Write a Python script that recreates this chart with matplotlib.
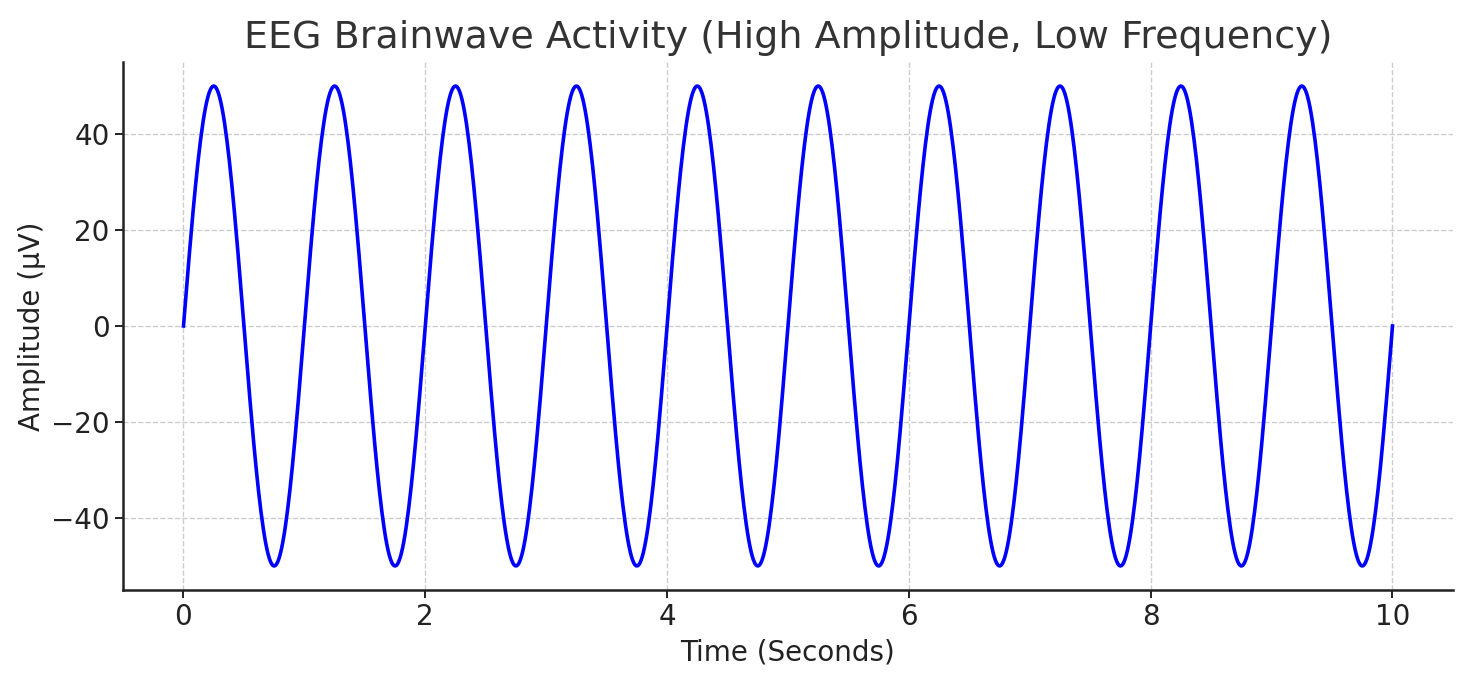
import matplotlib.pyplot as plt
import numpy as np

# 信号参数
duration_s = 10        # 时间范围 0-10 秒
amplitude_uv = 50      # 峰值 ±50 µV
frequency_hz = 1       # 每秒一个周期
n_samples = 1000

x_ticks = [0, 2, 4, 6, 8, 10]
y_ticks = [-40, -20, 0, 20, 40]

time = np.linspace(0, duration_s, n_samples)
eeg = amplitude_uv * np.sin(2 * np.pi * frequency_hz * time)

fig = plt.figure(figsize=(14.7, 6.8), dpi=100)
ax = fig.add_axes([0.0837, 0.1324, 0.9047, 0.7764])

ax.plot(time, eeg, color='blue', linewidth=2.6)

ax.set_xticks(x_ticks)
ax.set_yticks(y_ticks)
ax.set_title('EEG Brainwave Activity (High Amplitude, Low Frequency)',
             fontsize=27.4, color='#333333', pad=10)
ax.set_xlabel('Time (Seconds)', fontsize=20, color='#222222', labelpad=5)
ax.set_ylabel('Amplitude (µV)', fontsize=20, color='#222222', labelpad=4)
ax.tick_params(labelsize=20, length=6, width=1.4, colors='#222222')
ax.grid(True, linestyle='--', color='#cccccc', linewidth=1)

for side in ['top', 'right']:
    ax.spines[side].set_visible(False)
for side in ['left', 'bottom']:
    ax.spines[side].set_linewidth(1.8)
    ax.spines[side].set_color('#222222')

fig.savefig('out.png', dpi=100)
